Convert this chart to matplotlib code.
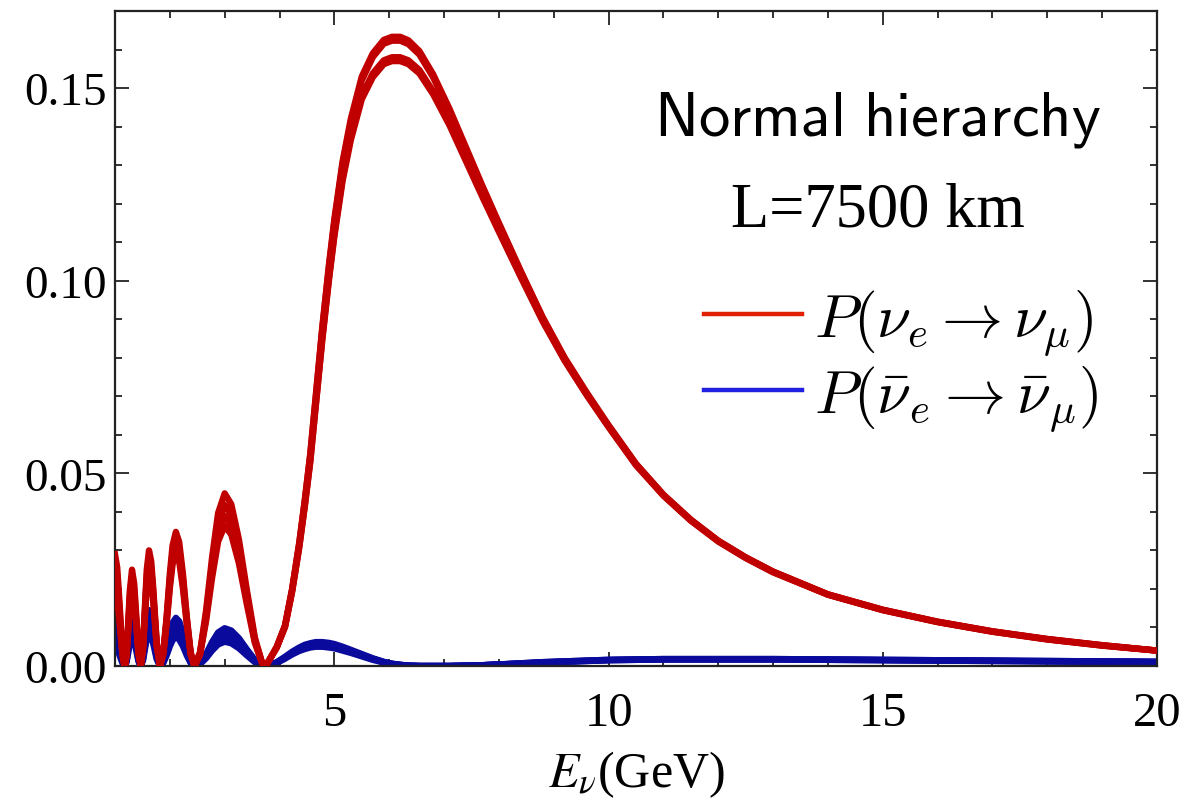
import matplotlib
matplotlib.use("Agg")
import matplotlib.pyplot as plt
from matplotlib.lines import Line2D
from matplotlib.ticker import MultipleLocator, FixedLocator

# ---------------- data ----------------
energy = [1.00, 1.04, 1.08, 1.12, 1.15, 1.18,
          1.21, 1.24, 1.27, 1.31, 1.35, 1.39, 1.43, 1.47,
          1.51, 1.55, 1.58, 1.62, 1.66, 1.70, 1.76, 1.82,
          1.88, 1.94, 2.00, 2.05, 2.11, 2.17, 2.24, 2.31, 2.38, 2.45,
          2.55, 2.66, 2.77, 2.88, 3.00, 3.12, 3.26, 3.40, 3.55, 3.68, 3.75,
          3.85, 3.95, 4.10, 4.23, 4.36, 4.46, 4.56, 4.66, 4.78, 4.90,
          5.00, 5.15, 5.30, 5.50, 5.70, 5.90, 6.05, 6.20, 6.35, 6.55,
          6.80, 7.10, 7.40, 7.70, 8.00, 8.40, 8.80, 9.20, 9.60, 10.0,
          10.5, 11.0, 11.5, 12.0, 12.5, 13.0, 14.0, 15.0, 16.0, 17.0,
          18.0, 19.0, 20.0]

p_nu_1 = [0.0290, 0.0256, 0.0170, 0.0073, 0.0019, 0.0000,
          0.0032, 0.0110, 0.0195, 0.0250, 0.0214, 0.0125, 0.0037, 0.0000,
          0.0050, 0.0166, 0.0251, 0.0300, 0.0272, 0.0197, 0.0062, 0.0000,
          0.0035, 0.0126, 0.0239, 0.0313, 0.0348, 0.0322, 0.0237, 0.0127, 0.0035, 0.0000,
          0.0036, 0.0143, 0.0281, 0.0397, 0.0448, 0.0420, 0.0328, 0.0201, 0.0074, 0.0009, 0.0000,
          0.0025, 0.0050, 0.0105, 0.0200, 0.0320, 0.0430, 0.0550, 0.0700, 0.0880, 0.1040,
          0.1160, 0.1310, 0.1420, 0.1530, 0.1590, 0.1625, 0.1633, 0.1633, 0.1624, 0.1596,
          0.1536, 0.1446, 0.1346, 0.1246, 0.1150, 0.1025, 0.0905, 0.0800, 0.0710, 0.0625,
          0.0525, 0.0445, 0.0380, 0.0325, 0.0282, 0.0245, 0.0186, 0.0146, 0.0115, 0.0090,
          0.0070, 0.0054, 0.0040]
p_nu_2 = [0.0260, 0.0230, 0.0153, 0.0065, 0.0017, 0.0000,
          0.0030, 0.0102, 0.0181, 0.0232, 0.0198, 0.0116, 0.0034, 0.0000,
          0.0047, 0.0156, 0.0235, 0.0282, 0.0255, 0.0185, 0.0058, 0.0000,
          0.0034, 0.0119, 0.0226, 0.0296, 0.0330, 0.0305, 0.0225, 0.0120, 0.0033, 0.0000,
          0.0033, 0.0133, 0.0263, 0.0371, 0.0418, 0.0392, 0.0306, 0.0187, 0.0069, 0.0009, 0.0000,
          0.0025, 0.0050, 0.0105, 0.0200, 0.0319, 0.0428, 0.0547, 0.0696, 0.0875, 0.1034,
          0.1153, 0.1302, 0.1411, 0.1520, 0.1580, 0.1615, 0.1623, 0.1623, 0.1614, 0.1587,
          0.1528, 0.1439, 0.1340, 0.1241, 0.1146, 0.1022, 0.0903, 0.0798, 0.0708, 0.0624,
          0.0524, 0.0444, 0.0379, 0.0325, 0.0282, 0.0245, 0.0186, 0.0146, 0.0115, 0.0090,
          0.0070, 0.0054, 0.0040]
p_nu_3 = [0.0230, 0.0203, 0.0135, 0.0058, 0.0015, 0.0000,
          0.0027, 0.0094, 0.0167, 0.0214, 0.0183, 0.0107, 0.0031, 0.0000,
          0.0044, 0.0146, 0.0220, 0.0264, 0.0239, 0.0173, 0.0054, 0.0000,
          0.0032, 0.0113, 0.0214, 0.0280, 0.0312, 0.0289, 0.0212, 0.0114, 0.0031, 0.0000,
          0.0031, 0.0124, 0.0245, 0.0346, 0.0390, 0.0366, 0.0285, 0.0175, 0.0064, 0.0008, 0.0000,
          0.0024, 0.0048, 0.0102, 0.0194, 0.0310, 0.0416, 0.0532, 0.0677, 0.0851, 0.1006,
          0.1122, 0.1267, 0.1374, 0.1480, 0.1538, 0.1572, 0.1580, 0.1580, 0.1572, 0.1547,
          0.1492, 0.1410, 0.1316, 0.1222, 0.1131, 0.1012, 0.0896, 0.0794, 0.0705, 0.0621,
          0.0522, 0.0443, 0.0378, 0.0324, 0.0281, 0.0244, 0.0185, 0.0145, 0.0114, 0.0089,
          0.0069, 0.0053, 0.0040]
p_nu_4 = [0.0200, 0.0177, 0.0117, 0.0050, 0.0013, 0.0000,
          0.0025, 0.0087, 0.0154, 0.0198, 0.0169, 0.0099, 0.0029, 0.0000,
          0.0041, 0.0137, 0.0207, 0.0248, 0.0224, 0.0162, 0.0051, 0.0000,
          0.0030, 0.0106, 0.0202, 0.0264, 0.0294, 0.0272, 0.0200, 0.0107, 0.0029, 0.0000,
          0.0029, 0.0116, 0.0229, 0.0323, 0.0364, 0.0341, 0.0266, 0.0163, 0.0060, 0.0008, 0.0000,
          0.0024, 0.0048, 0.0101, 0.0193, 0.0308, 0.0413, 0.0529, 0.0673, 0.0846, 0.1000,
          0.1115, 0.1259, 0.1365, 0.1471, 0.1528, 0.1562, 0.1570, 0.1570, 0.1562, 0.1538,
          0.1484, 0.1403, 0.1310, 0.1217, 0.1127, 0.1009, 0.0894, 0.0792, 0.0703, 0.0620,
          0.0521, 0.0442, 0.0377, 0.0323, 0.0280, 0.0243, 0.0185, 0.0145, 0.0114, 0.0089,
          0.0069, 0.0053, 0.0040]

p_nubar_1 = [0.0140, 0.0124, 0.0082, 0.0035, 0.0009, 0.0000,
             0.0017, 0.0057, 0.0101, 0.0130, 0.0111, 0.0065, 0.0019, 0.0000,
             0.0024, 0.0080, 0.0121, 0.0145, 0.0131, 0.0095, 0.0030, 0.0000,
             0.0013, 0.0045, 0.0086, 0.0112, 0.0125, 0.0116, 0.0085, 0.0046, 0.0013, 0.0000,
             0.0008, 0.0031, 0.0062, 0.0087, 0.0098, 0.0092, 0.0072, 0.0044, 0.0016, 0.0002, 0.0000,
             0.0003, 0.0010, 0.0024, 0.0037, 0.0048, 0.0055, 0.0059, 0.0062, 0.0062, 0.0060,
             0.0057, 0.0050, 0.0042, 0.0031, 0.0020, 0.0011, 0.0006, 0.0003, 0.0001, 0.0000,
             0.0000, 0.0000, 0.0001, 0.0002, 0.0004, 0.0007, 0.0010, 0.0012, 0.0014, 0.0016,
             0.0017, 0.0018, 0.0018, 0.0018, 0.0018, 0.0018, 0.0017, 0.0016, 0.0015, 0.0014,
             0.0013, 0.0012, 0.0011]
p_nubar_2 = [0.0110, 0.0097, 0.0065, 0.0028, 0.0007, 0.0000,
             0.0014, 0.0049, 0.0087, 0.0112, 0.0096, 0.0056, 0.0016, 0.0000,
             0.0021, 0.0069, 0.0104, 0.0125, 0.0113, 0.0082, 0.0026, 0.0000,
             0.0011, 0.0039, 0.0074, 0.0097, 0.0108, 0.0100, 0.0074, 0.0039, 0.0011, 0.0000,
             0.0007, 0.0027, 0.0054, 0.0076, 0.0086, 0.0081, 0.0063, 0.0039, 0.0014, 0.0002, 0.0000,
             0.0003, 0.0009, 0.0022, 0.0035, 0.0045, 0.0051, 0.0055, 0.0058, 0.0058, 0.0056,
             0.0053, 0.0047, 0.0039, 0.0029, 0.0019, 0.0010, 0.0006, 0.0003, 0.0001, 0.0000,
             0.0000, 0.0000, 0.0001, 0.0002, 0.0004, 0.0007, 0.0010, 0.0012, 0.0014, 0.0016,
             0.0017, 0.0018, 0.0018, 0.0018, 0.0018, 0.0018, 0.0017, 0.0016, 0.0015, 0.0014,
             0.0013, 0.0012, 0.0011]
p_nubar_3 = [0.0080, 0.0071, 0.0047, 0.0020, 0.0005, 0.0000,
             0.0012, 0.0041, 0.0073, 0.0094, 0.0080, 0.0047, 0.0014, 0.0000,
             0.0017, 0.0058, 0.0088, 0.0105, 0.0095, 0.0069, 0.0022, 0.0000,
             0.0009, 0.0033, 0.0062, 0.0082, 0.0091, 0.0084, 0.0062, 0.0033, 0.0009, 0.0000,
             0.0006, 0.0024, 0.0046, 0.0066, 0.0074, 0.0069, 0.0054, 0.0033, 0.0012, 0.0002, 0.0000,
             0.0003, 0.0009, 0.0021, 0.0032, 0.0042, 0.0048, 0.0051, 0.0054, 0.0054, 0.0052,
             0.0050, 0.0044, 0.0037, 0.0027, 0.0018, 0.0010, 0.0005, 0.0003, 0.0001, 0.0000,
             0.0000, 0.0000, 0.0001, 0.0002, 0.0004, 0.0006, 0.0009, 0.0011, 0.0013, 0.0015,
             0.0016, 0.0017, 0.0017, 0.0017, 0.0017, 0.0017, 0.0016, 0.0015, 0.0014, 0.0013,
             0.0012, 0.0011, 0.0010]
p_nubar_4 = [0.0050, 0.0044, 0.0029, 0.0013, 0.0003, 0.0000,
             0.0010, 0.0033, 0.0059, 0.0076, 0.0065, 0.0038, 0.0011, 0.0000,
             0.0014, 0.0047, 0.0071, 0.0085, 0.0077, 0.0056, 0.0018, 0.0000,
             0.0008, 0.0027, 0.0051, 0.0067, 0.0075, 0.0069, 0.0051, 0.0027, 0.0008, 0.0000,
             0.0005, 0.0020, 0.0040, 0.0056, 0.0063, 0.0059, 0.0046, 0.0028, 0.0010, 0.0001, 0.0000,
             0.0002, 0.0008, 0.0019, 0.0030, 0.0039, 0.0044, 0.0048, 0.0050, 0.0050, 0.0048,
             0.0046, 0.0040, 0.0034, 0.0025, 0.0016, 0.0009, 0.0005, 0.0002, 0.0001, 0.0000,
             0.0000, 0.0000, 0.0001, 0.0002, 0.0004, 0.0006, 0.0009, 0.0011, 0.0013, 0.0015,
             0.0016, 0.0017, 0.0017, 0.0017, 0.0017, 0.0017, 0.0016, 0.0015, 0.0014, 0.0013,
             0.0012, 0.0011, 0.0010]

nu_curves = [p_nu_1, p_nu_2, p_nu_3, p_nu_4]
nubar_curves = [p_nubar_1, p_nubar_2, p_nubar_3, p_nubar_4]

x_major = [5, 10, 15, 20]
y_major = [0.00, 0.05, 0.10, 0.15]
y_labels = ["0.00", "0.05", "0.10", "0.15"]

legend_labels = [r"$P(\nu_e \rightarrow \nu_\mu)$",
                 r"$P(\bar{\nu}_e \rightarrow \bar{\nu}_\mu)$"]

# ---------------- figure ----------------
fig = plt.figure(figsize=(11.96, 8.03), dpi=100)
ax = fig.add_axes([115 / 1196, 1 - 667 / 803, (1157 - 115) / 1196, (667 - 12) / 803])

red = "#c00000"
blue = "#0a0a9c"
for ys in nubar_curves:
    ax.plot(energy, ys, color=blue, lw=4.6, solid_joinstyle="round", zorder=2)
for ys in nu_curves:
    ax.plot(energy, ys, color=red, lw=4.6, solid_joinstyle="round", zorder=3)

ax.set_xlim(1, 20)
ax.set_ylim(0, 0.17)

serif = "Liberation Serif"
ax.xaxis.set_major_locator(FixedLocator(x_major))
ax.xaxis.set_minor_locator(MultipleLocator(1))
ax.yaxis.set_major_locator(FixedLocator(y_major))
ax.yaxis.set_minor_locator(MultipleLocator(0.01))
ax.set_yticklabels(y_labels)
ax.tick_params(which="both", direction="in", top=True, right=True, width=1.3, color="#222222")
ax.tick_params(which="major", length=10)
ax.tick_params(which="minor", length=5)
ax.tick_params(axis="x", which="major", labelsize=35, pad=18)
ax.tick_params(axis="y", which="major", labelsize=34, pad=6)
for lab in ax.get_xticklabels() + ax.get_yticklabels():
    lab.set_fontfamily(serif)
for sp in ax.spines.values():
    sp.set_linewidth(1.6)
    sp.set_color("#222222")

ax.set_xlabel(r"$E_\nu$(GeV)", fontsize=36, fontfamily=serif, math_fontfamily="stix")
ax.xaxis.label.set_verticalalignment("center")
ax.xaxis.set_label_coords(0.5, -(775 - 667) / 655)

ax.text(0.732, 0.835, r"$\mathsf{Normal\ hierarchy}$", transform=ax.transAxes,
        ha="center", va="center", fontsize=45, math_fontfamily="cm")
ax.text(0.732, 0.695, "L=7500 km", transform=ax.transAxes, ha="center", va="center",
        fontsize=45, fontfamily=serif)

handles = [Line2D([], [], color="#e02000", lw=3.2),
           Line2D([], [], color="#2020e0", lw=3.2)]
leg = ax.legend(handles, legend_labels, loc="upper right", bbox_to_anchor=(0.985, 0.643),
                frameon=False, prop={"size": 44, "math_fontfamily": "cm"},
                handlelength=1.6, handletextpad=0.2, labelspacing=0.1, borderpad=0.2)

fig.savefig("out.png", dpi=100)
